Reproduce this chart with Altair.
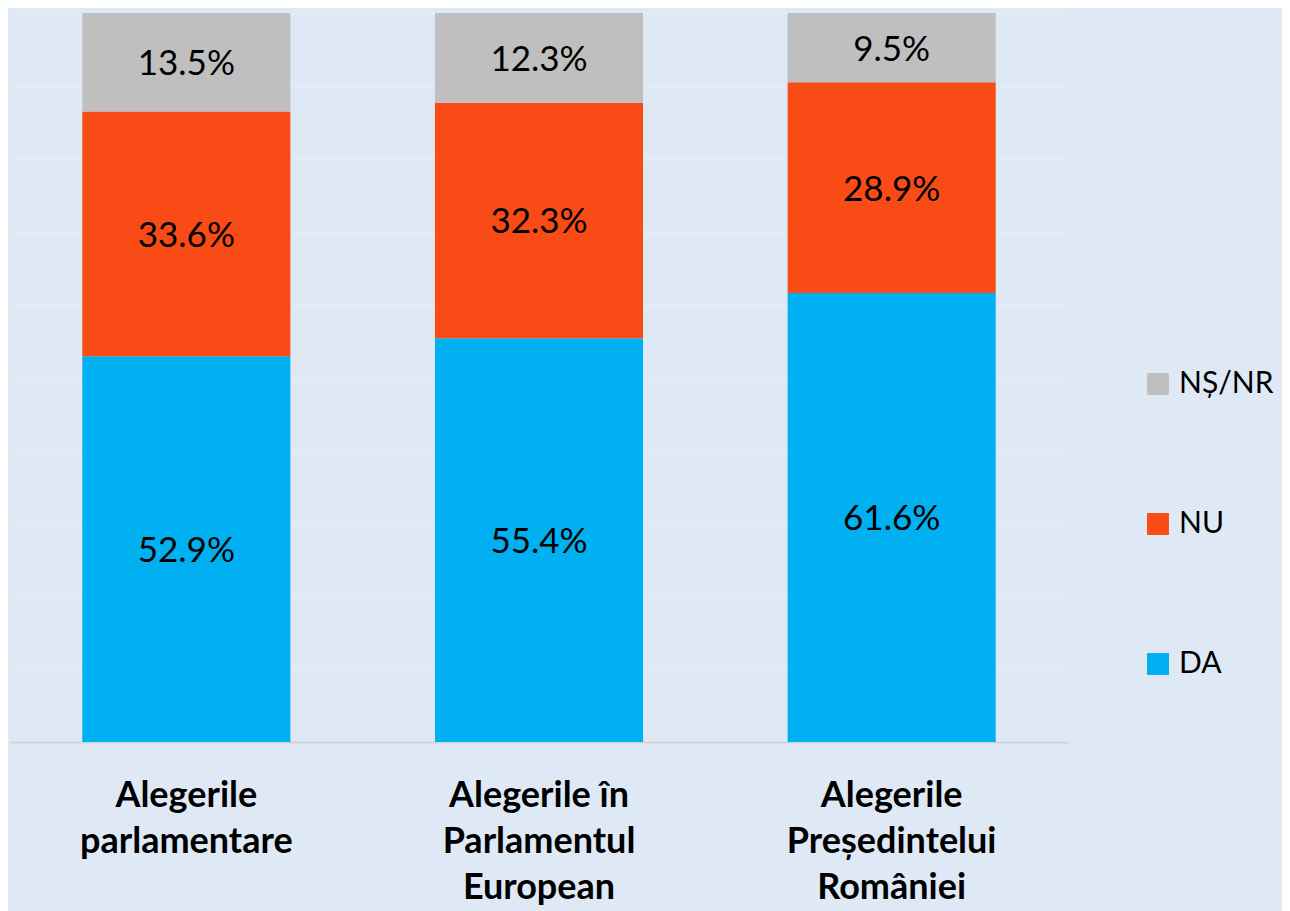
import altair as alt
import pandas as pd

categories = ["Alegerile|parlamentare", "Alegerile în|Parlamentul|European", "Alegerile|Președintelui|României"]
series = ["DA", "NU", "NȘ/NR"]
da_values = [52.9, 55.4, 61.6]
nu_values = [33.6, 32.3, 28.9]
ns_values = [13.5, 12.3, 9.5]
colors = ["#00B0F0", "#F84B16", "#BFBFBF"]

rows = []
for i, c in enumerate(categories):
    for j, (s, vals) in enumerate(zip(series, [da_values, nu_values, ns_values])):
        rows.append({"cat": c, "series": s, "value": vals[i], "order": j})
df = pd.DataFrame(rows)

BG = "#DEE9F5"
FONT = "Lato"

base = alt.Chart(df).transform_stack(
    stack="value", as_=["y0", "y1"], groupby=["cat"], sort=[alt.SortField("order", order="ascending")]
).transform_calculate(
    mid="(datum.y0 + datum.y1) / 2",
    lbl="format(datum.value, '.1f') + '%'"
)

x_enc = alt.X("cat:N", sort=categories, title=None,
              scale=alt.Scale(paddingInner=0.41, paddingOuter=0.205),
              axis=alt.Axis(labelExpr="split(datum.label, '|')", labelAngle=0,
                            labelFont=FONT, labelFontSize=36, labelFontWeight="bold",
                            labelColor="#000000", labelLineHeight=46, labelPadding=36,
                            labelBaseline="top", labelLimit=500,
                            ticks=False, domain=True, domainColor="#D0D4D9", domainWidth=2,
                            grid=False))

bars = base.mark_bar(stroke=None).encode(
    x=x_enc,
    y=alt.Y("y0:Q", scale=alt.Scale(domain=[0, 100], nice=False, zero=True), title=None,
            axis=alt.Axis(labels=False, ticks=False, domain=False, grid=True,
                          gridColor="#E5EDF6", gridWidth=1.5, values=list(range(10, 101, 10)))),
    y2="y1:Q",
    color=alt.Color("series:N", sort=["NȘ/NR", "NU", "DA"],
                    scale=alt.Scale(domain=["NȘ/NR", "NU", "DA"], range=[colors[2], colors[1], colors[0]]),
                    legend=alt.Legend(title=None, orient="none", legendX=1133, legendY=356,
                                      symbolType="square", symbolSize=480, symbolStrokeWidth=0,
                                      labelFont=FONT, labelFontSize=30, labelColor="#000000",
                                      rowPadding=110, labelOffset=6, symbolOffset=0)),
    order=alt.Order("order:Q")
)

labels = base.mark_text(font=FONT, fontSize=35, color="#000000", dy=2).encode(
    x=alt.X("cat:N", sort=categories),
    y=alt.Y("mid:Q"),
    text="lbl:N"
)

chart = alt.layer(bars, labels).properties(
    width=1058, height=729,
    autosize=alt.AutoSizeParams(type="none"),
    padding={"left": 2, "top": 5, "right": 214, "bottom": 170},
    background=BG
).configure_view(stroke=None)

chart.save("out.html", embed_options={"renderer": "svg", "actions": False})
